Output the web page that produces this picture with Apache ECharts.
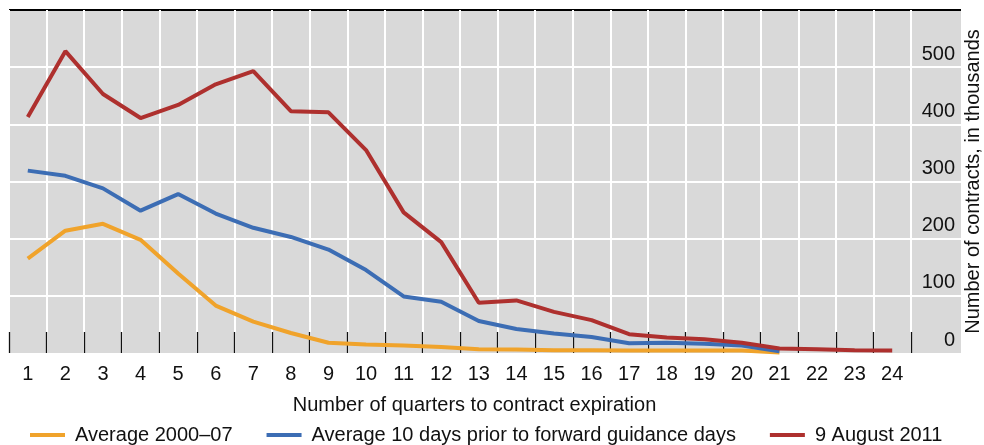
<!DOCTYPE html>
<html>
<head>
<meta charset="utf-8">
<script src="https://cdn.jsdelivr.net/npm/echarts@6/dist/echarts.min.js"></script>
<style>
  html, body { margin: 0; padding: 0; background: #fff; }
  #main { width: 984px; height: 445px; }
</style>
</head>
<body>
<div id="main"></div>
<script>
//横轴：距合约到期的季度数
let quarters = ['1','2','3','4','5','6','7','8','9','10','11','12','13','14','15','16','17','18','19','20','21','22','23','24']
//Average 2000–07
let avg2000 = [165,214,226,198,139,83,55,35,18,15,13,10.5,6.5,6,5,5,4.5,4.5,4.5,4.5,1,null,null,null]
//Average 10 days prior to forward guidance days
let avgGuidance = [319,310,288,249,278,244,219,203,181,145,99,89.5,56,42,34,28,17,18,16,13,3,null,null,null]
//9 August 2011
let aug2011 = [413,528,453,411,434,470,493,423,421,355,246,194,88,92,72,57.5,33,27,24,18,8,6.5,5,4.5]
//纵轴刻度
let yMin = 0
let yMax = 600
let yStep = 100

let seriesNames = ['Average 2000\u201307','Average 10 days prior to forward guidance days','9 August 2011']
let seriesColors = ['#F0A32B','#3C6DB4','#AE302E']

let font = 'Liberation Sans, Arial, sans-serif'
let fontSize = 20
let gridLineColors = ['rgba(0,0,0,0)','#fff','#fff','#fff','#fff','#fff','#000']

var myChart = echarts.init(document.getElementById('main'))
let option = {
    animation: false,
    textStyle: { fontFamily: font },
    legend: {
        left: 30,
        top: 425,
        padding: 0,
        icon: 'rect',
        itemWidth: 35,
        itemHeight: 4,
        itemGap: 34,
        textStyle: { fontSize: fontSize, color: '#111', fontFamily: font, padding: [0,0,0,5] },
        data: seriesNames
    },
    grid: [
        { left: 9, right: 73, top: 10, bottom: 92, show: true, backgroundColor: '#d9d9d9', borderWidth: 0 },
        { left: 911, right: 23, top: 10, bottom: 92, show: true, backgroundColor: '#d9d9d9', borderWidth: 0 }
    ],
    xAxis: [
        {
            gridIndex: 0,
            type: 'category',
            data: quarters,
            boundaryGap: true,
            axisLine: { show: false },
            axisTick: { show: true, inside: true, length: 21, lineStyle: { color: '#111', width: 1.3 } },
            axisLabel: { fontSize: fontSize, color: '#111', margin: 11, fontFamily: font },
            splitLine: { show: true, lineStyle: { color: '#fff', width: 2 } },
            name: 'Number of quarters to contract expiration',
            nameLocation: 'middle',
            nameGap: 42,
            nameTextStyle: { fontSize: fontSize, color: '#111', fontFamily: font, padding: [0,0,0,29] }
        },
        {
            gridIndex: 1,
            type: 'value',
            show: false,
            splitLine: { show: false }
        }
    ],
    yAxis: [
        {
            gridIndex: 0,
            type: 'value',
            min: yMin, max: yMax, interval: yStep,
            axisLine: { show: false },
            axisTick: { show: false },
            axisLabel: { show: false },
            splitLine: { show: true, lineStyle: { color: gridLineColors, width: 2 } }
        },
        {
            gridIndex: 1,
            type: 'value',
            position: 'right',
            min: yMin, max: yMax, interval: yStep,
            axisLine: { show: false },
            axisTick: { show: false },
            axisLabel: {
                inside: true, margin: 6, fontSize: fontSize, color: '#111', verticalAlign: 'bottom', fontFamily: font,
                padding: [0,0,3,0], showMaxLabel: false
            },
            splitLine: { show: true, lineStyle: { color: gridLineColors, width: 2 } },
            name: 'Number of contracts, in thousands',
            nameLocation: 'middle',
            nameRotate: 90,
            nameGap: 2,
            nameTextStyle: { fontSize: fontSize, color: '#111', fontFamily: font }
        }
    ],
    series: [
        {
            name: seriesNames[0],
            type: 'line',
            data: avg2000,
            showSymbol: false,
            symbol: 'none',
            itemStyle: { color: seriesColors[0] },
            lineStyle: { color: seriesColors[0], width: 4 }
        },
        {
            name: seriesNames[1],
            type: 'line',
            data: avgGuidance,
            showSymbol: false,
            symbol: 'none',
            itemStyle: { color: seriesColors[1] },
            lineStyle: { color: seriesColors[1], width: 4 }
        },
        {
            name: seriesNames[2],
            type: 'line',
            data: aug2011,
            showSymbol: false,
            symbol: 'none',
            itemStyle: { color: seriesColors[2] },
            lineStyle: { color: seriesColors[2], width: 4 }
        }
    ]
}
myChart.setOption(option)
</script>
</body>
</html>
